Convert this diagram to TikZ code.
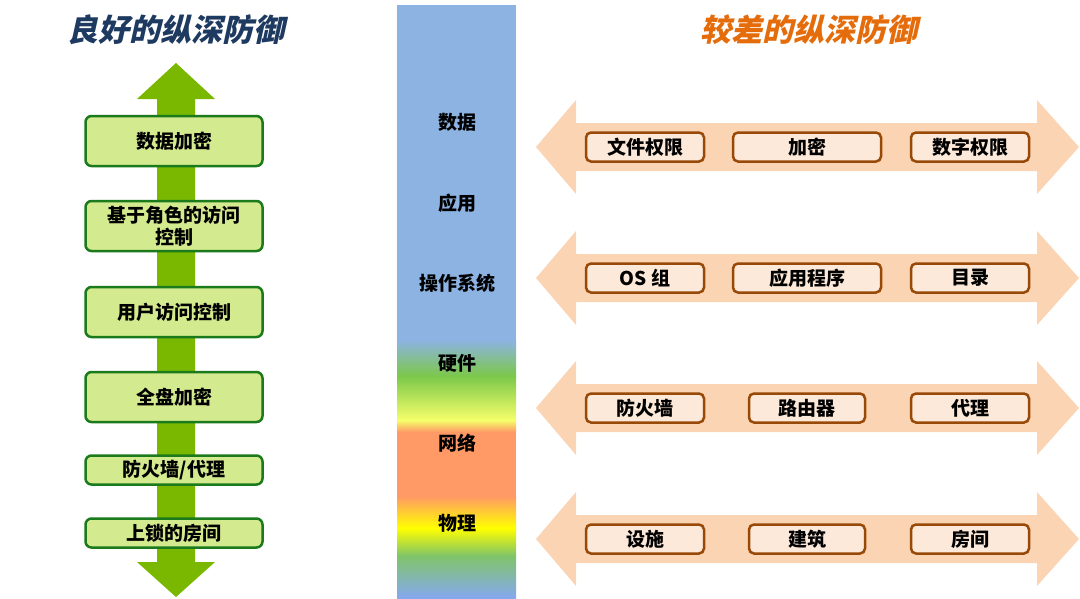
\documentclass[tikz,border=0pt]{standalone}
\usepackage{fontspec}
\newfontfamily\cjk{Noto Sans CJK SC}
\newfontfamily\cjkit{Noto Sans CJK SC}[FakeSlant=0.22]
\definecolor{navytitle}{HTML}{1F3A60}
\definecolor{orangetitle}{HTML}{E46C0A}
\definecolor{shaftgreen}{HTML}{7AB800}
\definecolor{goodfill}{HTML}{D4EA8E}
\definecolor{goodline}{HTML}{1B7A1B}
\definecolor{barblue}{HTML}{8DB3E2}
\definecolor{bargreen}{HTML}{7CC84A}
\definecolor{barpale}{HTML}{F5FF6A}
\definecolor{barorange}{HTML}{FF9966}
\definecolor{baryellow}{HTML}{FFFF00}
\definecolor{barbottom}{HTML}{86A8F0}
\definecolor{peach}{HTML}{FBD4B4}
\definecolor{badfill}{HTML}{FDE9D9}
\definecolor{badline}{HTML}{984807}
\tikzset{
  goodbox/.style={draw=goodline, line width=2.5pt, fill=goodfill, rounded corners=6pt,
    minimum width=177pt, inner sep=0pt, align=center,
    font=\cjk\bfseries\fontsize{19}{22}\selectfont},
  badbox/.style={draw=badline, line width=2.5pt, fill=badfill, rounded corners=5pt,
    minimum height=29pt, inner sep=0pt,
    font=\cjk\bfseries\fontsize{19}{22}\selectfont},
  layer/.style={font=\cjk\bfseries\fontsize{19}{22}\selectfont},
  bigtitle/.style={font=\cjkit\bfseries\fontsize{31}{34}\selectfont}
}
\begin{document}
\begin{tikzpicture}[x=1pt,y=-1pt]
    \useasboundingbox (0,0) rectangle (1080,598);

    % 左侧：良好的纵深防御
    \node[bigtitle, text=navytitle] (goodtitle) at (176,30) {良好的纵深防御};
    \fill[shaftgreen] (176,63) -- (215,99) -- (195,99) -- (195,562) -- (215,562)
        -- (176,597) -- (137,562) -- (157,562) -- (157,99) -- (137,99) -- cycle;
    \node[goodbox, minimum height=50pt] (g1) at (174,141) {数据加密};
    \node[goodbox, minimum height=50pt] (g2) at (174,226) {基于角色的访问\\控制};
    \node[goodbox, minimum height=50pt] (g3) at (174,312) {用户访问控制};
    \node[goodbox, minimum height=50pt] (g4) at (174,397) {全盘加密};
    \node[goodbox, minimum height=29pt] (g5) at (174,470) {防火墙/代理};
    \node[goodbox, minimum height=29pt] (g6) at (174,533) {上锁的房间};

    % 中间：分层色条
    \fill[barblue] (397,5) rectangle (516,340);
    \shade[top color=barblue, bottom color=bargreen] (397,340) rectangle (516,376);
    \shade[top color=bargreen, bottom color=barpale] (397,376) rectangle (516,420);
    \shade[top color=barpale, bottom color=barorange] (397,420) rectangle (516,432);
    \fill[barorange] (397,432) rectangle (516,496);
    \shade[top color=barorange, bottom color=baryellow] (397,496) rectangle (516,528);
    \shade[top color=baryellow, bottom color=bargreen!80!barblue] (397,528) rectangle (516,556);
    \shade[top color=bargreen!80!barblue, bottom color=barbottom] (397,556) rectangle (516,598);
    \node[layer] (l1) at (457,122) {数据};
    \node[layer] (l2) at (457,203) {应用};
    \node[layer] (l3) at (457,283) {操作系统};
    \node[layer] (l4) at (457,363) {硬件};
    \node[layer] (l5) at (457,443) {网络};
    \node[layer] (l6) at (457,523) {物理};

    % 右侧：较差的纵深防御
    \node[bigtitle, text=orangetitle] (badtitle) at (809,30) {较差的纵深防御};
    \foreach \c in {147,278,408,539} {
        \fill[peach] (536,\c) -- (576,\c-47) -- (576,\c-24) -- (1037,\c-24) -- (1037,\c-47)
            -- (1079,\c) -- (1037,\c+47) -- (1037,\c+24) -- (576,\c+24) -- (576,\c+47) -- cycle;
    }
    \node[badbox, minimum width=118pt] (a1) at (645,147) {文件权限};
    \node[badbox, minimum width=148pt] (a2) at (807,147) {加密};
    \node[badbox, minimum width=118pt] (a3) at (970,147) {数字权限};
    \node[badbox, minimum width=118pt] (b1) at (645,278) {OS 组};
    \node[badbox, minimum width=148pt] (b2) at (807,278) {应用程序};
    \node[badbox, minimum width=118pt] (b3) at (970,278) {目录};
    \node[badbox, minimum width=118pt] (c1) at (645,408) {防火墙};
    \node[badbox, minimum width=116pt] (c2) at (807,408) {路由器};
    \node[badbox, minimum width=118pt] (c3) at (970,408) {代理};
    \node[badbox, minimum width=118pt] (d1) at (645,539) {设施};
    \node[badbox, minimum width=116pt] (d2) at (807,539) {建筑};
    \node[badbox, minimum width=118pt] (d3) at (970,539) {房间};
\end{tikzpicture}
\end{document}
